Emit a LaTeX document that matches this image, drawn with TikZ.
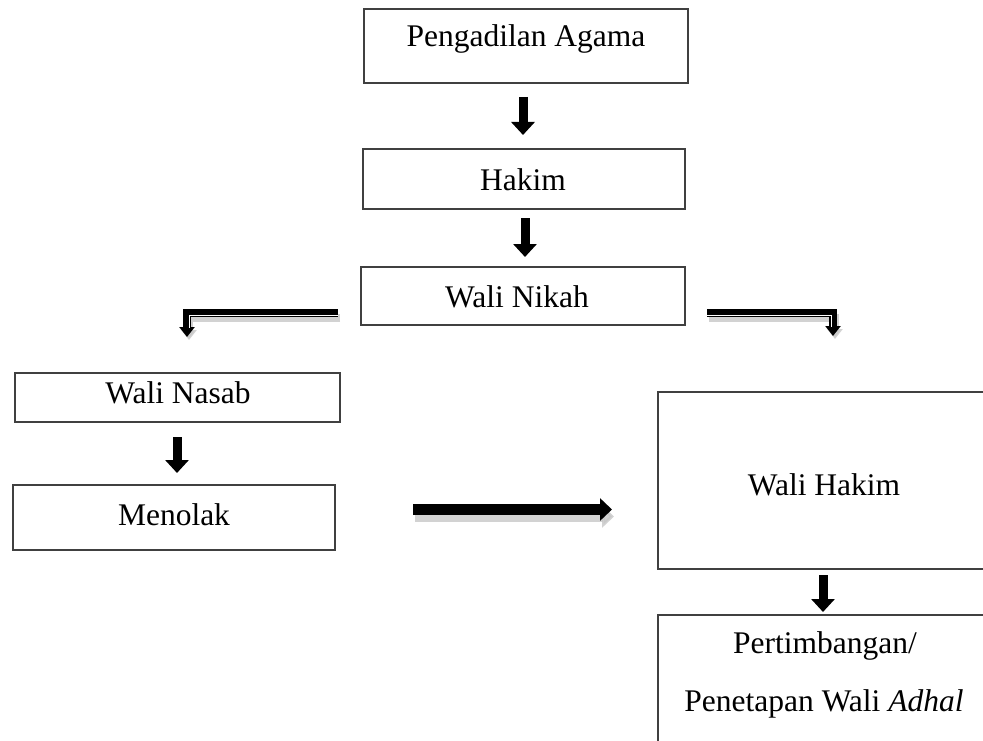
\documentclass[tikz,border=0pt]{standalone}
\usepackage{fontspec}
\setmainfont{Liberation Serif}
\usetikzlibrary{arrows.meta,calc}
\begin{document}
\begin{tikzpicture}[x=1pt,y=-1pt,
  box/.style={draw=black!75, line width=1.3pt, inner sep=0pt},
  lbl/.style={anchor=base, inner sep=0pt, font=\fontsize{31.5}{38}\selectfont},
  downarr/.style={line width=9pt, -{Triangle[width=23pt,length=13pt]}},
  rightarr/.style={line width=11pt, -{Triangle[width=22pt,length=12pt]}},
  bentarr/.style={line width=8pt, -{Triangle[width=15pt,length=10pt]}},
  shadowarr/.style={black!22, opacity=0.8},
  innerline/.style={white, line width=1pt}
]
\useasboundingbox (0,0) rectangle (983,741);
\clip (0,0) rectangle (983,741);

% boxes
\node[box, minimum width=324pt, minimum height=74pt] (pa) at (526,46) {};
\node[box, minimum width=322pt, minimum height=60pt] (hk) at (524,179) {};
\node[box, minimum width=324pt, minimum height=58pt] (wn) at (523,296) {};
\node[box, minimum width=325pt, minimum height=49pt] (ns) at (177.5,397.5) {};
\node[box, minimum width=322pt, minimum height=65pt] (mn) at (174,517.5) {};
\node[box, minimum width=332pt, minimum height=177pt] (wh) at (824,480.5) {};
\node[box, minimum width=332pt, minimum height=185pt] (pt) at (824,707.5) {};

% texts
\node[lbl] (tpa) at (526,47) {Pengadilan Agama};
\node[lbl] (thk) at (523,190) {Hakim};
\node[lbl] (twn) at (517,307) {Wali Nikah};
\node[lbl] (tns) at (178,403) {Wali Nasab};
\node[lbl] (tmn) at (174,525) {Menolak};
\node[lbl] (twh) at (824,495) {Wali Hakim};
\node[lbl] (tpt1) at (825,653) {Pertimbangan/};
\node[lbl] (tpt2) at (824,711) {Penetapan Wali \textit{Adhal}};

% arrow end points
\coordinate (a1s) at (523,97);  \coordinate (a1e) at (523,135);
\coordinate (a2s) at (525,218); \coordinate (a2e) at (525,257);
\coordinate (a3s) at (177,437); \coordinate (a3e) at (177,473);
\coordinate (a4s) at (823,575); \coordinate (a4e) at (823,612);
\coordinate (hs) at (413,509.5); \coordinate (he) at (612,509.5);
\coordinate (ls) at (338,312.5); \coordinate (le) at (187,337);
\coordinate (rs) at (707,312.5); \coordinate (re) at (833,336);

% shadows
\draw[shadowarr, bentarr] ($(ls)+(2,5)$) -| ($(le)+(2,3)$);
\draw[shadowarr, bentarr] ($(rs)+(2,5)$) -| ($(re)+(2,3)$);
\draw[shadowarr, rightarr] ($(hs)+(2,7)$) -- ($(he)+(2,7)$);

% arrows
\draw[downarr] (a1s) -- (a1e);
\draw[downarr] (a2s) -- (a2e);
\draw[downarr] (a3s) -- (a3e);
\draw[downarr] (a4s) -- (a4e);
\draw[rightarr] (hs) -- (he);
\draw[bentarr] (ls) -| (le);
\draw[bentarr] (rs) -| (re);
\draw[innerline] ($(ls)+(0,2.5)$) -| ($(le)+(2,-9)$);
\draw[innerline] ($(rs)+(0,2.5)$) -| ($(re)+(-2,-9)$);
\end{tikzpicture}
\end{document}
